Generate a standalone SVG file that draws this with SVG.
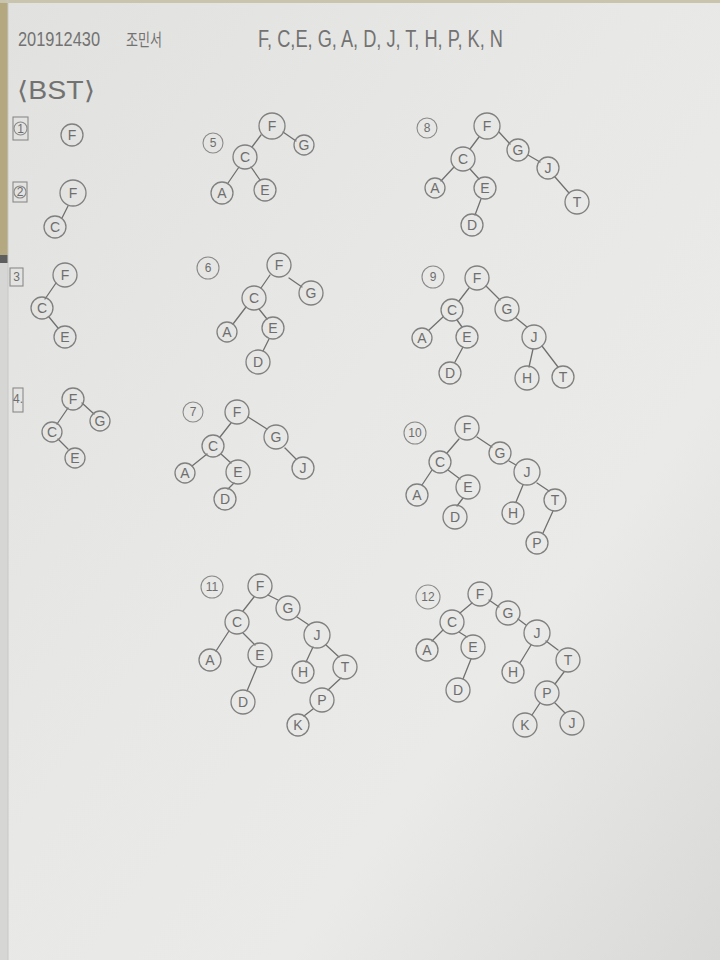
<svg xmlns="http://www.w3.org/2000/svg" width="720" height="960" viewBox="0 0 720 960">
<defs>
<linearGradient id="paper" x1="0" y1="0" x2="1" y2="1">
<stop offset="0" stop-color="#e1e1df"/>
<stop offset="0.45" stop-color="#e8e8e6"/>
<stop offset="0.7" stop-color="#eaeae8"/>
<stop offset="1" stop-color="#d9d9d8"/>
</linearGradient>
<style>
.n circle{fill:none;stroke:#808080;stroke-width:1.3}
.n text,.lb text{font-family:"Liberation Sans",Arial,sans-serif;font-size:14px;fill:#6e6e6e;text-anchor:middle;dominant-baseline:central}
.lb circle,.lb rect{fill:none;stroke:#8a8a8a;stroke-width:1.1}
.lb text{font-size:12px}
.e line{stroke:#707070;stroke-width:1.3;stroke-linecap:round}
.hd{font-family:"Liberation Sans",Arial,sans-serif;fill:#727272}
.ko{font-family:"Noto Sans CJK KR","Liberation Sans",sans-serif;fill:#727272}
</style>
</defs>
<rect x="0" y="0" width="720" height="960" fill="url(#paper)"/>
<rect x="0" y="0" width="8" height="258" fill="#b3a87f"/>
<rect x="0" y="0" width="720" height="3" fill="#c9c4ad"/>
<rect x="0" y="255" width="8" height="8" fill="#5e5e5e"/>
<rect x="0" y="263" width="8" height="697" fill="#d6d6d4"/>
<line x1="8" y1="0" x2="8" y2="960" stroke="#c8c8c6" stroke-width="1"/>

<g id="header">
<text class="hd" x="18" y="46" font-size="21" textLength="82" lengthAdjust="spacingAndGlyphs">201912430</text>
<text class="ko" x="126" y="46" font-size="17" textLength="36" lengthAdjust="spacingAndGlyphs">조민서</text>
<text class="hd" x="258" y="47" font-size="23" textLength="245" lengthAdjust="spacingAndGlyphs">F, C,E, G, A, D, J, T, H, P, K, N</text>
<text class="hd" x="17" y="99" font-size="25" textLength="78" lengthAdjust="spacingAndGlyphs">⟨BST⟩</text>
</g>

<g id="connectors" class="e">
<!-- tree 2 -->
<line x1="68" y1="206" x2="62" y2="218"/>
<!-- tree 3 -->
<line x1="56" y1="283" x2="45" y2="299"/>
<line x1="49" y1="317" x2="58" y2="328"/>
<!-- tree 4 -->
<line x1="68" y1="408" x2="57" y2="424"/>
<line x1="82" y1="403" x2="94" y2="414"/>
<line x1="58" y1="439" x2="68" y2="449"/>
<!-- tree 5 -->
<line x1="261" y1="135" x2="252" y2="147"/>
<line x1="283" y1="132" x2="296" y2="141"/>
<line x1="239" y1="167" x2="228" y2="183"/>
<line x1="251" y1="167" x2="260" y2="180"/>
<!-- tree 6 -->
<line x1="270" y1="275" x2="261" y2="288"/>
<line x1="289" y1="278" x2="302" y2="287"/>
<line x1="246" y1="307" x2="233" y2="324"/>
<line x1="259" y1="309" x2="267" y2="319"/>
<line x1="269" y1="339" x2="263" y2="351"/>
<!-- tree 7 -->
<line x1="231" y1="423" x2="220" y2="437"/>
<line x1="248" y1="417" x2="267" y2="429"/>
<line x1="285" y1="448" x2="296" y2="459"/>
<line x1="207" y1="454" x2="192" y2="466"/>
<line x1="221" y1="454" x2="231" y2="463"/>
<line x1="234" y1="483" x2="228" y2="489"/>
<!-- tree 8 -->
<line x1="479" y1="137" x2="470" y2="149"/>
<line x1="499" y1="132" x2="510" y2="144"/>
<line x1="528" y1="155" x2="540" y2="162"/>
<line x1="555" y1="177" x2="569" y2="193"/>
<line x1="454" y1="167" x2="441" y2="181"/>
<line x1="470" y1="169" x2="479" y2="179"/>
<line x1="481" y1="199" x2="475" y2="215"/>
<!-- tree 9 -->
<line x1="469" y1="288" x2="459" y2="301"/>
<line x1="486" y1="286" x2="500" y2="300"/>
<line x1="516" y1="318" x2="527" y2="327"/>
<line x1="533" y1="349" x2="529" y2="367"/>
<line x1="542" y1="346" x2="558" y2="367"/>
<line x1="443" y1="317" x2="429" y2="330"/>
<line x1="457" y1="320" x2="462" y2="327"/>
<line x1="463" y1="347" x2="455" y2="362"/>
<!-- tree 10 -->
<line x1="459" y1="439" x2="447" y2="453"/>
<line x1="477" y1="437" x2="492" y2="447"/>
<line x1="509" y1="461" x2="516" y2="465"/>
<line x1="523" y1="485" x2="516" y2="502"/>
<line x1="537" y1="483" x2="549" y2="491"/>
<line x1="553" y1="511" x2="543" y2="533"/>
<line x1="432" y1="470" x2="422" y2="485"/>
<line x1="448" y1="470" x2="460" y2="479"/>
<line x1="463" y1="498" x2="457" y2="506"/>
<!-- tree 11 -->
<line x1="254" y1="597" x2="243" y2="611"/>
<line x1="268" y1="595" x2="278" y2="600"/>
<line x1="297" y1="617" x2="309" y2="625"/>
<line x1="313" y1="647" x2="306" y2="662"/>
<line x1="326" y1="645" x2="339" y2="657"/>
<line x1="341" y1="678" x2="328" y2="690"/>
<line x1="313" y1="709" x2="304" y2="716"/>
<line x1="229" y1="631" x2="216" y2="651"/>
<line x1="243" y1="633" x2="255" y2="645"/>
<line x1="257" y1="667" x2="247" y2="691"/>
<!-- tree 12 -->
<line x1="472" y1="603" x2="460" y2="613"/>
<line x1="489" y1="600" x2="499" y2="607"/>
<line x1="518" y1="619" x2="526" y2="625"/>
<line x1="531" y1="645" x2="520" y2="663"/>
<line x1="546" y1="641" x2="558" y2="650"/>
<line x1="564" y1="672" x2="555" y2="684"/>
<line x1="540" y1="703" x2="532" y2="715"/>
<line x1="555" y1="703" x2="565" y2="713"/>
<line x1="443" y1="630" x2="432" y2="641"/>
<line x1="459" y1="632" x2="467" y2="637"/>
<line x1="471" y1="659" x2="463" y2="679"/>
</g>

<!-- tree labels -->
<g id="label1" class="lb"><rect x="13" y="117" width="15" height="23"/><circle cx="20.5" cy="128.5" r="6.5"/><text x="20.5" y="129">1</text></g>
<g id="label2" class="lb"><rect x="13" y="182" width="14" height="20"/><circle cx="20" cy="192" r="6"/><text x="20" y="192">2</text></g>
<g id="label3" class="lb"><rect x="10" y="268" width="13" height="18"/><text x="16.5" y="277">3</text></g>
<g id="label4" class="lb"><rect x="13" y="388" width="10" height="24"/><text x="18" y="399">4.</text></g>
<g id="label5" class="lb"><circle cx="213" cy="143" r="10"/><text x="213" y="143">5</text></g>
<g id="label6" class="lb"><circle cx="208" cy="268" r="11"/><text x="208" y="268">6</text></g>
<g id="label7" class="lb"><circle cx="193" cy="412" r="10"/><text x="193" y="412">7</text></g>
<g id="label8" class="lb"><circle cx="427" cy="128" r="10"/><text x="427" y="128">8</text></g>
<g id="label9" class="lb"><circle cx="433" cy="277" r="11"/><text x="433" y="277">9</text></g>
<g id="label10" class="lb"><circle cx="415" cy="433" r="11"/><text x="415" y="433">10</text></g>
<g id="label11" class="lb"><circle cx="212" cy="587" r="11"/><text x="212" y="587">11</text></g>
<g id="label12" class="lb"><circle cx="428" cy="597" r="12"/><text x="428" y="597">12</text></g>

<!-- tree 1 -->
<g id="t1-F" class="n"><circle cx="72" cy="135" r="11"/><text x="72" y="135">F</text></g>
<!-- tree 2 -->
<g id="t2-F" class="n"><circle cx="73" cy="193" r="13"/><text x="73" y="193">F</text></g>
<g id="t2-C" class="n"><circle cx="55" cy="227" r="11"/><text x="55" y="227">C</text></g>
<!-- tree 3 -->
<g id="t3-F" class="n"><circle cx="65" cy="275" r="12"/><text x="65" y="275">F</text></g>
<g id="t3-C" class="n"><circle cx="42" cy="308" r="11"/><text x="42" y="308">C</text></g>
<g id="t3-E" class="n"><circle cx="65" cy="337" r="11"/><text x="65" y="337">E</text></g>
<!-- tree 4 -->
<g id="t4-F" class="n"><circle cx="73" cy="399" r="11"/><text x="73" y="399">F</text></g>
<g id="t4-G" class="n"><circle cx="100" cy="421" r="10"/><text x="100" y="421">G</text></g>
<g id="t4-C" class="n"><circle cx="52" cy="432" r="10"/><text x="52" y="432">C</text></g>
<g id="t4-E" class="n"><circle cx="75" cy="458" r="10"/><text x="75" y="458">E</text></g>
<!-- tree 5 -->
<g id="t5-F" class="n"><circle cx="272" cy="126" r="13"/><text x="272" y="126">F</text></g>
<g id="t5-G" class="n"><circle cx="304" cy="145" r="10"/><text x="304" y="145">G</text></g>
<g id="t5-C" class="n"><circle cx="245" cy="157" r="12"/><text x="245" y="157">C</text></g>
<g id="t5-A" class="n"><circle cx="222" cy="193" r="11"/><text x="222" y="193">A</text></g>
<g id="t5-E" class="n"><circle cx="265" cy="190" r="11"/><text x="265" y="190">E</text></g>
<!-- tree 6 -->
<g id="t6-F" class="n"><circle cx="279" cy="265" r="12"/><text x="279" y="265">F</text></g>
<g id="t6-G" class="n"><circle cx="311" cy="293" r="12"/><text x="311" y="293">G</text></g>
<g id="t6-C" class="n"><circle cx="254" cy="298" r="12"/><text x="254" y="298">C</text></g>
<g id="t6-A" class="n"><circle cx="227" cy="332" r="10"/><text x="227" y="332">A</text></g>
<g id="t6-E" class="n"><circle cx="273" cy="328" r="11"/><text x="273" y="328">E</text></g>
<g id="t6-D" class="n"><circle cx="258" cy="362" r="12"/><text x="258" y="362">D</text></g>
<!-- tree 7 -->
<g id="t7-F" class="n"><circle cx="237" cy="412" r="12"/><text x="237" y="412">F</text></g>
<g id="t7-G" class="n"><circle cx="276" cy="437" r="12"/><text x="276" y="437">G</text></g>
<g id="t7-J" class="n"><circle cx="303" cy="468" r="11"/><text x="303" y="468">J</text></g>
<g id="t7-C" class="n"><circle cx="213" cy="446" r="11"/><text x="213" y="446">C</text></g>
<g id="t7-A" class="n"><circle cx="185" cy="473" r="10"/><text x="185" y="473">A</text></g>
<g id="t7-E" class="n"><circle cx="238" cy="472" r="12"/><text x="238" y="472">E</text></g>
<g id="t7-D" class="n"><circle cx="225" cy="499" r="11"/><text x="225" y="499">D</text></g>
<!-- tree 8 -->
<g id="t8-F" class="n"><circle cx="487" cy="126" r="13"/><text x="487" y="126">F</text></g>
<g id="t8-C" class="n"><circle cx="463" cy="159" r="12"/><text x="463" y="159">C</text></g>
<g id="t8-G" class="n"><circle cx="518" cy="150" r="11"/><text x="518" y="150">G</text></g>
<g id="t8-J" class="n"><circle cx="548" cy="168" r="11"/><text x="548" y="168">J</text></g>
<g id="t8-T" class="n"><circle cx="577" cy="202" r="12"/><text x="577" y="202">T</text></g>
<g id="t8-A" class="n"><circle cx="435" cy="188" r="10"/><text x="435" y="188">A</text></g>
<g id="t8-E" class="n"><circle cx="485" cy="188" r="11"/><text x="485" y="188">E</text></g>
<g id="t8-D" class="n"><circle cx="472" cy="225" r="11"/><text x="472" y="225">D</text></g>
<!-- tree 9 -->
<g id="t9-F" class="n"><circle cx="477" cy="278" r="12"/><text x="477" y="278">F</text></g>
<g id="t9-C" class="n"><circle cx="452" cy="310" r="11"/><text x="452" y="310">C</text></g>
<g id="t9-G" class="n"><circle cx="507" cy="309" r="12"/><text x="507" y="309">G</text></g>
<g id="t9-J" class="n"><circle cx="534" cy="337" r="12"/><text x="534" y="337">J</text></g>
<g id="t9-H" class="n"><circle cx="527" cy="378" r="12"/><text x="527" y="378">H</text></g>
<g id="t9-T" class="n"><circle cx="563" cy="377" r="11"/><text x="563" y="377">T</text></g>
<g id="t9-A" class="n"><circle cx="422" cy="338" r="10"/><text x="422" y="338">A</text></g>
<g id="t9-E" class="n"><circle cx="467" cy="337" r="11"/><text x="467" y="337">E</text></g>
<g id="t9-D" class="n"><circle cx="450" cy="373" r="11"/><text x="450" y="373">D</text></g>
<!-- tree 10 -->
<g id="t10-F" class="n"><circle cx="467" cy="428" r="12"/><text x="467" y="428">F</text></g>
<g id="t10-C" class="n"><circle cx="440" cy="462" r="11"/><text x="440" y="462">C</text></g>
<g id="t10-G" class="n"><circle cx="500" cy="453" r="11"/><text x="500" y="453">G</text></g>
<g id="t10-J" class="n"><circle cx="527" cy="472" r="13"/><text x="527" y="472">J</text></g>
<g id="t10-A" class="n"><circle cx="417" cy="495" r="11"/><text x="417" y="495">A</text></g>
<g id="t10-E" class="n"><circle cx="468" cy="487" r="12"/><text x="468" y="487">E</text></g>
<g id="t10-D" class="n"><circle cx="455" cy="517" r="12"/><text x="455" y="517">D</text></g>
<g id="t10-H" class="n"><circle cx="513" cy="513" r="11"/><text x="513" y="513">H</text></g>
<g id="t10-T" class="n"><circle cx="555" cy="500" r="11"/><text x="555" y="500">T</text></g>
<g id="t10-P" class="n"><circle cx="537" cy="543" r="11"/><text x="537" y="543">P</text></g>
<!-- tree 11 -->
<g id="t11-F" class="n"><circle cx="260" cy="586" r="12"/><text x="260" y="586">F</text></g>
<g id="t11-G" class="n"><circle cx="288" cy="608" r="12"/><text x="288" y="608">G</text></g>
<g id="t11-C" class="n"><circle cx="237" cy="622" r="12"/><text x="237" y="622">C</text></g>
<g id="t11-J" class="n"><circle cx="317" cy="635" r="13"/><text x="317" y="635">J</text></g>
<g id="t11-A" class="n"><circle cx="210" cy="660" r="11"/><text x="210" y="660">A</text></g>
<g id="t11-E" class="n"><circle cx="260" cy="655" r="12"/><text x="260" y="655">E</text></g>
<g id="t11-H" class="n"><circle cx="303" cy="672" r="11"/><text x="303" y="672">H</text></g>
<g id="t11-T" class="n"><circle cx="345" cy="667" r="12"/><text x="345" y="667">T</text></g>
<g id="t11-D" class="n"><circle cx="243" cy="702" r="12"/><text x="243" y="702">D</text></g>
<g id="t11-P" class="n"><circle cx="322" cy="700" r="12"/><text x="322" y="700">P</text></g>
<g id="t11-K" class="n"><circle cx="298" cy="725" r="11"/><text x="298" y="725">K</text></g>
<!-- tree 12 -->
<g id="t12-F" class="n"><circle cx="480" cy="594" r="12"/><text x="480" y="594">F</text></g>
<g id="t12-C" class="n"><circle cx="452" cy="622" r="12"/><text x="452" y="622">C</text></g>
<g id="t12-G" class="n"><circle cx="508" cy="613" r="12"/><text x="508" y="613">G</text></g>
<g id="t12-J" class="n"><circle cx="537" cy="633" r="13"/><text x="537" y="633">J</text></g>
<g id="t12-A" class="n"><circle cx="427" cy="650" r="11"/><text x="427" y="650">A</text></g>
<g id="t12-E" class="n"><circle cx="473" cy="647" r="12"/><text x="473" y="647">E</text></g>
<g id="t12-T" class="n"><circle cx="568" cy="660" r="12"/><text x="568" y="660">T</text></g>
<g id="t12-H" class="n"><circle cx="513" cy="672" r="11"/><text x="513" y="672">H</text></g>
<g id="t12-D" class="n"><circle cx="458" cy="690" r="12"/><text x="458" y="690">D</text></g>
<g id="t12-P" class="n"><circle cx="547" cy="693" r="12"/><text x="547" y="693">P</text></g>
<g id="t12-K" class="n"><circle cx="525" cy="725" r="12"/><text x="525" y="725">K</text></g>
<g id="t12-J2" class="n"><circle cx="572" cy="723" r="12"/><text x="572" y="723">J</text></g>
</svg>
